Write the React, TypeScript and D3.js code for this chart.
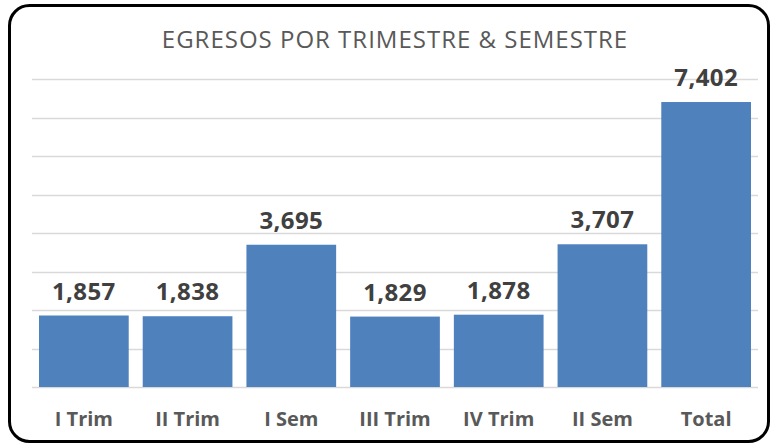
import React from "react";
import * as d3 from "d3";

const categories = ["I Trim", "II Trim", "I Sem", "III Trim", "IV Trim", "II Sem", "Total"];
const values = [1857, 1838, 3695, 1829, 1878, 3707, 7402];
const yTicks = [0, 1000, 2000, 3000, 4000, 5000, 6000, 7000, 8000];
const title = "EGRESOS POR TRIMESTRE & SEMESTRE";

export default function App() {
  const W = 771, H = 445;
  const x = d3.scaleBand<string>().domain(categories).range([32, 758]).paddingInner(0.135).paddingOuter(0.0675);
  const y = d3.scaleLinear().domain([0, 8000]).range([387, 79]);
  const fmt = d3.format(",");
  const font = "'Open Sans', sans-serif";
  return (
    <svg width={W} height={H} style={{ position: "absolute", left: 0, top: 0 }}>
      <rect x={0} y={0} width={W} height={H} fill="#fff" />
      <rect x={9.5} y={5.5} width={759} height={436} rx={20} ry={20} fill="#fff" stroke="#000" strokeWidth={3} />
      <text x={395} y={48} textAnchor="middle" fontFamily={font} fontSize={24} letterSpacing={1} fill="#595959">{title}</text>
      {yTicks.map((t) => (
        <line key={t} x1={32} x2={758} y1={Math.round(y(t)) + 0.5} y2={Math.round(y(t)) + 0.5} stroke="#d9d9d9" strokeWidth={1.5} />
      ))}
      {categories.map((c, i) => (
        <g key={c}>
          <rect x={x(c)} y={y(values[i])} width={x.bandwidth()} height={y(0) - y(values[i])} fill="#4F81BD" />
          <text x={(x(c) as number) + x.bandwidth() / 2} y={y(values[i]) - 16} textAnchor="middle" fontFamily={font} fontWeight="bold" fontSize={24} letterSpacing={0.4} fill="#404040">{fmt(values[i])}</text>
          <text x={(x(c) as number) + x.bandwidth() / 2} y={426} textAnchor="middle" fontFamily={font} fontWeight="bold" fontSize={20} fill="#595959">{c}</text>
        </g>
      ))}
    </svg>
  );
}
